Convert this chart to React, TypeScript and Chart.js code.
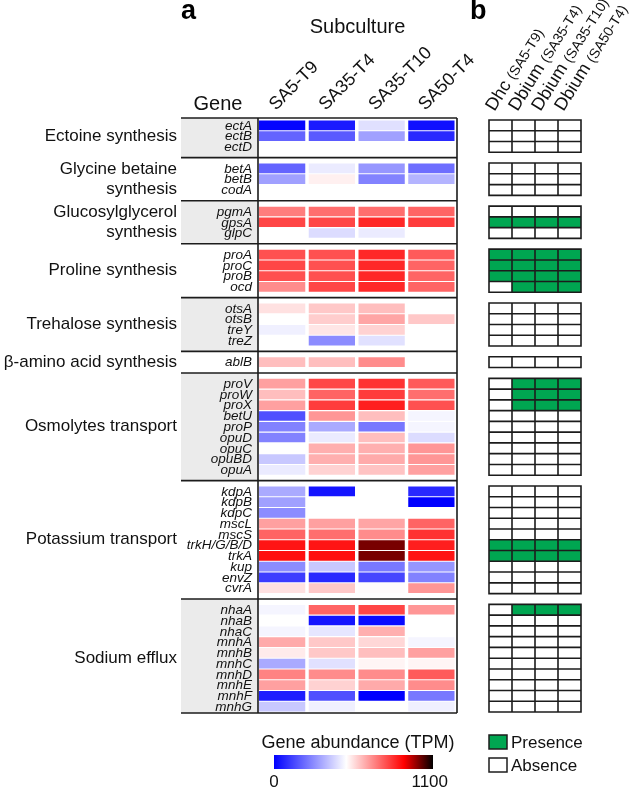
import React, { useEffect, useRef } from 'react';
import { Chart, registerables } from 'chart.js';
Chart.register(...registerables);

// ---------------- data ----------------
const subcultures = ['SA5-T9', 'SA35-T4', 'SA35-T10', 'SA50-T4'];
const organisms = ['Dhc', 'Dbium', 'Dbium', 'Dbium'];
const organismStrains = ['(SA5-T9)', '(SA35-T4)', '(SA35-T10)', '(SA50-T4)'];

const groupNames = [
  'Ectoine synthesis',
  'Glycine betaine\nsynthesis',
  'Glucosylglycerol\nsynthesis',
  'Proline synthesis',
  'Trehalose synthesis',
  'β-amino acid synthesis',
  'Osmolytes transport',
  'Potassium transport',
  'Sodium efflux',
];
const groupSizes = [3, 3, 3, 4, 4, 1, 9, 10, 10];

const genes = [
  'ectA', 'ectB', 'ectD',
  'betA', 'betB', 'codA',
  'pgmA', 'gpsA', 'glpC',
  'proA', 'proC', 'proB', 'ocd',
  'otsA', 'otsB', 'treY', 'treZ',
  'ablB',
  'proV', 'proW', 'proX', 'betU', 'proP', 'opuD', 'opuC', 'opuBD', 'opuA',
  'kdpA', 'kdpB', 'kdpC', 'mscL', 'mscS', 'trkH/G/B/D', 'trkA', 'kup', 'envZ', 'cvrA',
  'nhaA', 'nhaB', 'nhaC', 'mnhA', 'mnhB', 'mnhC', 'mnhD', 'mnhE', 'mnhF', 'mnhG',
];

// Gene abundance (TPM), null = not detected
const tpmSA5T9 = [
  10, 196, null,
  196, 314, null,
  704, 790, null,
  775, 790, 775, 680,
  547, null, 470, null,
  602,
  649, 602, 649, 157, 255, 255, null, 392, 461,
  333, 314, 275, 649, 743, 869, 876, 275, 118, 547,
  480, null, 480, 633, 531, 333, 696, 649, 59, 392,
];
const tpmSA35T4 = [
  50, 176, null,
  460, 524, null,
  727, 790, 431,
  775, 775, 775, 790,
  586, 578, 539, 275,
  602,
  790, 743, 806, 665, 333, 461, 625, 625, 571,
  39, null, null, 649, 727, 869, 876, 392, 78, 586,
  743, 39, 451, 586, 586, 441, 680, 571, 157, 470,
];
const tpmSA35T10 = [
  440, 314, null,
  294, 255, null,
  727, 837, 461,
  837, 837, 837, 837,
  602, 641, 571, 441,
  680,
  822, 806, 853, 602, 235, 602, 625, 633, 594,
  null, null, null, 641, 680, 1006, 1006, 235, 137, 505,
  790, 20, 625, 563, 602, 516, 680, 633, 0, null,
];
const tpmSA50T4 = [
  30, 80, null,
  216, 353, null,
  743, 806, null,
  759, 743, 743, 743,
  null, 586, null, null,
  null,
  759, 727, 775, 480, 480, 431, 665, 665, 649,
  78, 0, null, 743, 822, 853, 869, 294, 255, 665,
  665, null, null, 480, 649, 516, 759, 680, 235, 470,
];

// Presence (1) / absence (0) of the genes in the genomes
const presenceDhcSA5T9 = [
  0, 0, 0, 0, 0, 0, 0, 1, 0, 1, 1, 1, 0, 0, 0, 0, 0, 0,
  0, 0, 0, 0, 0, 0, 0, 0, 0,
  0, 0, 0, 0, 0, 1, 1, 0, 0, 0,
  0, 0, 0, 0, 0, 0, 0, 0, 0, 0,
];
const presenceDbiumSA35T4 = [
  0, 0, 0, 0, 0, 0, 0, 1, 0, 1, 1, 1, 1, 0, 0, 0, 0, 0,
  1, 1, 1, 0, 0, 0, 0, 0, 0,
  0, 0, 0, 0, 0, 1, 1, 0, 0, 0,
  1, 0, 0, 0, 0, 0, 0, 0, 0, 0,
];
const presenceDbiumSA35T10 = [
  0, 0, 0, 0, 0, 0, 0, 1, 0, 1, 1, 1, 1, 0, 0, 0, 0, 0,
  1, 1, 1, 0, 0, 0, 0, 0, 0,
  0, 0, 0, 0, 0, 1, 1, 0, 0, 0,
  1, 0, 0, 0, 0, 0, 0, 0, 0, 0,
];
const presenceDbiumSA50T4 = [
  0, 0, 0, 0, 0, 0, 0, 1, 0, 1, 1, 1, 1, 0, 0, 0, 0, 0,
  1, 1, 1, 0, 0, 0, 0, 0, 0,
  0, 0, 0, 0, 0, 1, 1, 0, 0, 0,
  1, 0, 0, 0, 0, 0, 0, 0, 0, 0,
];

const colorScaleTPM = [0, 500, 900, 1100];
const colorScaleRGB = [
  [0, 0, 255],
  [255, 255, 255],
  [255, 0, 0],
  [0, 0, 0],
];
const colorbarTicks = [0, 1100];

// ---------------- helpers ----------------
const FONT = '"Liberation Sans", Arial, Helvetica, sans-serif';
const GREEN = '#00a651';
const LINE = '#1c1c1c';

function colorFor(v: number): string {
  for (let i = 0; i < colorScaleTPM.length - 1; i++) {
    const a = colorScaleTPM[i];
    const b = colorScaleTPM[i + 1];
    if (v <= b || i === colorScaleTPM.length - 2) {
      const t = Math.max(0, Math.min(1, (v - a) / (b - a)));
      const c0 = colorScaleRGB[i];
      const c1 = colorScaleRGB[i + 1];
      const c = c0.map((x, k) => Math.round(x + (c1[k] - x) * t));
      return `rgb(${c[0]},${c[1]},${c[2]})`;
    }
  }
  return '#fff';
}

// slots: genes plus one empty slot between groups
type Slot = { gene: number | null; group: number };
const slots: Slot[] = [];
{
  let gi = 0;
  groupSizes.forEach((n, g) => {
    for (let i = 0; i < n; i++) slots.push({ gene: gi++, group: g });
    if (g < groupSizes.length - 1) slots.push({ gene: null, group: -1 });
  });
}
const slotLabels = slots.map((s) => (s.gene === null ? '' : genes[s.gene]));
const groupSlotRange = groupSizes.map((_, g) => {
  const idx = slots.map((s, i) => (s.group === g ? i : -1)).filter((i) => i >= 0);
  return [idx[0], idx[idx.length - 1]];
});

const heatSeries = [tpmSA5T9, tpmSA35T4, tpmSA35T10, tpmSA50T4];
const presenceSeries = [presenceDhcSA5T9, presenceDbiumSA35T4, presenceDbiumSA35T10, presenceDbiumSA50T4];

// layout (pixels)
const W = 632;
const H = 789;
const plotLeft = 258;
const plotRight = 581;
const plotTop = 120;
const plotBottom = 712;
const heatPitch = 49.75;
const gridPitch = 23;
const labelBoxLeft = 181;

function groupBounds(y: any, g: number) {
  const pitch = y.getPixelForValue(1) - y.getPixelForValue(0);
  const [s0, s1] = groupSlotRange[g];
  const top = g === 0 ? y.getPixelForValue(s0) - pitch / 2 - 2 : y.getPixelForValue(s0 - 1);
  const bottom = g === groupSizes.length - 1 ? y.getPixelForValue(s1) + pitch / 2 + 1 : y.getPixelForValue(s1 + 1);
  return [top, bottom];
}

const figurePlugin = {
  id: 'figureDecor',
  beforeDatasetsDraw(chart: any) {
    const ctx = chart.ctx;
    const y = chart.scales.y;
    const x = chart.scales.x;
    ctx.save();
    groupSlotRange.forEach((_, g) => {
      const [top, bottom] = groupBounds(y, g);
      if (g % 2 === 0) {
        ctx.fillStyle = '#ebebeb';
        ctx.fillRect(labelBoxLeft, top, x.getPixelForValue(0) - labelBoxLeft, bottom - top);
      }
    });
    ctx.restore();
  },
  afterDatasetsDraw(chart: any) {
    const ctx = chart.ctx;
    const y = chart.scales.y;
    const x = chart.scales.x;
    const xb = chart.scales.xb;
    const pitch = y.getPixelForValue(1) - y.getPixelForValue(0);
    const heatL = x.getPixelForValue(0);
    const heatR = x.getPixelForValue(subcultures.length);
    ctx.save();

    // panel a frame lines + group labels
    ctx.strokeStyle = LINE;
    ctx.lineWidth = 1.6;
    const frameTop = groupBounds(y, 0)[0];
    const frameBottom = groupBounds(y, groupSizes.length - 1)[1];
    groupSlotRange.forEach(([s0, s1], g) => {
      const [top, bottom] = groupBounds(y, g);
      ctx.beginPath();
      ctx.moveTo(labelBoxLeft, top);
      ctx.lineTo(heatR, top);
      if (g === groupSizes.length - 1) {
        ctx.moveTo(labelBoxLeft, bottom);
        ctx.lineTo(heatR, bottom);
      }
      ctx.stroke();
      const lines = groupNames[g].split('\n');
      const cy = (y.getPixelForValue(s0) + y.getPixelForValue(s1)) / 2;
      ctx.fillStyle = '#111';
      ctx.font = `17px ${FONT}`;
      ctx.textAlign = 'right';
      ctx.textBaseline = 'middle';
      lines.forEach((ln, i) => {
        ctx.fillText(ln, labelBoxLeft - 4, cy + (i - (lines.length - 1) / 2) * 20.5);
      });
    });
    ctx.beginPath();
    ctx.moveTo(heatL, frameTop);
    ctx.lineTo(heatL, frameBottom);
    ctx.moveTo(heatR, frameTop);
    ctx.lineTo(heatR, frameBottom);
    ctx.stroke();

    // gene labels
    ctx.fillStyle = '#111';
    ctx.font = `italic 13.5px ${FONT}`;
    ctx.textAlign = 'right';
    ctx.textBaseline = 'middle';
    slots.forEach((s, i) => {
      if (s.gene === null) return;
      ctx.fillText(genes[s.gene], heatL - 6, y.getPixelForValue(i) + 0.5);
    });

    // panel b grid lines
    ctx.strokeStyle = LINE;
    ctx.lineWidth = 1.6;
    const bL = xb.getPixelForValue(0);
    const bR = xb.getPixelForValue(organisms.length);
    groupSlotRange.forEach(([s0, s1]) => {
      const top = y.getPixelForValue(s0) - pitch / 2;
      const bottom = y.getPixelForValue(s1) + pitch / 2;
      ctx.beginPath();
      for (let s = s0; s <= s1 + 1; s++) {
        const yy = y.getPixelForValue(s) - pitch / 2;
        ctx.moveTo(bL - 0.8, yy);
        ctx.lineTo(bR + 0.8, yy);
      }
      for (let j = 0; j <= organisms.length; j++) {
        const xx = xb.getPixelForValue(j);
        ctx.moveTo(xx, top);
        ctx.lineTo(xx, bottom);
      }
      ctx.stroke();
    });

    // headers
    ctx.fillStyle = '#000';
    ctx.textAlign = 'left';
    ctx.textBaseline = 'alphabetic';
    ctx.font = `bold 27px ${FONT}`;
    ctx.fillText('a', 181, 19);
    ctx.fillText('b', 470, 19);
    ctx.fillStyle = '#111';
    ctx.font = `20px ${FONT}`;
    ctx.textAlign = 'center';
    ctx.fillText('Subculture', (heatL + heatR) / 2, 33);
    ctx.fillText('Gene', 218, 110);

    // column labels panel a
    ctx.font = `18px ${FONT}`;
    ctx.textAlign = 'left';
    subcultures.forEach((s, k) => {
      const cx = x.getPixelForValue(k + 0.5);
      ctx.save();
      ctx.translate(cx - 7, 111);
      ctx.rotate(-Math.PI / 4);
      ctx.fillText(s, 0, 0);
      ctx.restore();
    });

    // column labels panel b
    organisms.forEach((o, j) => {
      const cx = xb.getPixelForValue(j + 0.5);
      ctx.save();
      ctx.translate(cx - 6, 112);
      ctx.rotate((-58 * Math.PI) / 180);
      ctx.font = `18px ${FONT}`;
      ctx.fillText(o, 0, 0);
      const w = ctx.measureText(o + ' ').width;
      ctx.font = `14px ${FONT}`;
      ctx.fillText(organismStrains[j], w, 0);
      ctx.restore();
    });

    // colour bar legend
    const cbL = 274;
    const cbR = 433;
    const cbT = 755;
    const cbH = 14;
    const grad = ctx.createLinearGradient(cbL, 0, cbR, 0);
    const vmax = colorScaleTPM[colorScaleTPM.length - 1];
    colorScaleTPM.forEach((v) => grad.addColorStop(v / vmax, colorFor(v)));
    ctx.fillStyle = grad;
    ctx.fillRect(cbL, cbT, cbR - cbL, cbH);
    ctx.fillStyle = '#111';
    ctx.font = `18px ${FONT}`;
    ctx.textAlign = 'center';
    ctx.fillText('Gene abundance (TPM)', 358, 748);
    ctx.font = `17px ${FONT}`;
    colorbarTicks.forEach((t, i) => {
      const px = cbL + ((cbR - cbL) * t) / vmax;
      if (i === 0) {
        ctx.textAlign = 'center';
        ctx.fillText(String(t), px, 787);
      } else {
        ctx.textAlign = 'right';
        ctx.fillText(String(t), px + 15, 787);
      }
    });

    // presence legend
    ctx.lineWidth = 1.5;
    ctx.strokeStyle = LINE;
    ctx.fillStyle = GREEN;
    ctx.fillRect(489, 735, 18, 14);
    ctx.strokeRect(489, 735, 18, 14);
    ctx.fillStyle = '#fff';
    ctx.fillRect(489, 758, 18, 14);
    ctx.strokeRect(489, 758, 18, 14);
    ctx.fillStyle = '#111';
    ctx.textAlign = 'left';
    ctx.font = `17px ${FONT}`;
    ctx.fillText('Presence', 511, 748);
    ctx.fillText('Absence', 511, 771);

    ctx.restore();
  },
};

export default function App() {
  const ref = useRef<HTMLCanvasElement | null>(null);
  useEffect(() => {
    if (!ref.current) return;
    const heatDatasets = heatSeries.map((series, k) => ({
      label: subcultures[k],
      xAxisID: 'x',
      yAxisID: 'y',
      grouped: false,
      barPercentage: 0.9,
      categoryPercentage: 1,
      borderWidth: 0,
      inflateAmount: 0,
      data: slots.map((s) => (s.gene === null || series[s.gene] === null ? null : [k + 0.02, k + 0.95])),
      backgroundColor: slots.map((s) =>
        s.gene === null || series[s.gene] === null ? 'rgba(0,0,0,0)' : colorFor(series[s.gene] as number)
      ),
    }));
    const presenceDatasets = presenceSeries.map((series, j) => ({
      label: organisms[j] + ' ' + organismStrains[j],
      xAxisID: 'xb',
      yAxisID: 'y',
      grouped: false,
      barPercentage: 1,
      categoryPercentage: 1,
      borderWidth: 0,
      inflateAmount: 0,
      data: slots.map((s) => (s.gene === null ? null : [j, j + 1])),
      backgroundColor: slots.map((s) => (s.gene !== null && series[s.gene] ? GREEN : '#ffffff')),
    }));
    const chart = new Chart(ref.current, {
      type: 'bar',
      data: { labels: slotLabels, datasets: [...heatDatasets, ...presenceDatasets] as any },
      options: {
        indexAxis: 'y',
        responsive: false,
        animation: false,
        events: [],
        layout: { padding: { left: plotLeft, right: W - plotRight, top: plotTop, bottom: H - plotBottom } },
        plugins: { legend: { display: false }, tooltip: { enabled: false } },
        scales: {
          y: { type: 'category', display: false, offset: true, grid: { display: false } },
          x: { type: 'linear', display: false, min: 0, max: (plotRight - plotLeft) / heatPitch },
          xb: {
            type: 'linear',
            axis: 'x',
            display: false,
            min: organisms.length - (plotRight - plotLeft) / gridPitch,
            max: organisms.length,
          },
        },
      } as any,
      plugins: [figurePlugin],
    });
    return () => chart.destroy();
  }, []);
  return (
    <div style={{ position: 'absolute', left: 0, top: 0, width: W, height: H, background: '#fff' }}>
      <canvas ref={ref} width={W} height={H} style={{ display: 'block' }} />
    </div>
  );
}
